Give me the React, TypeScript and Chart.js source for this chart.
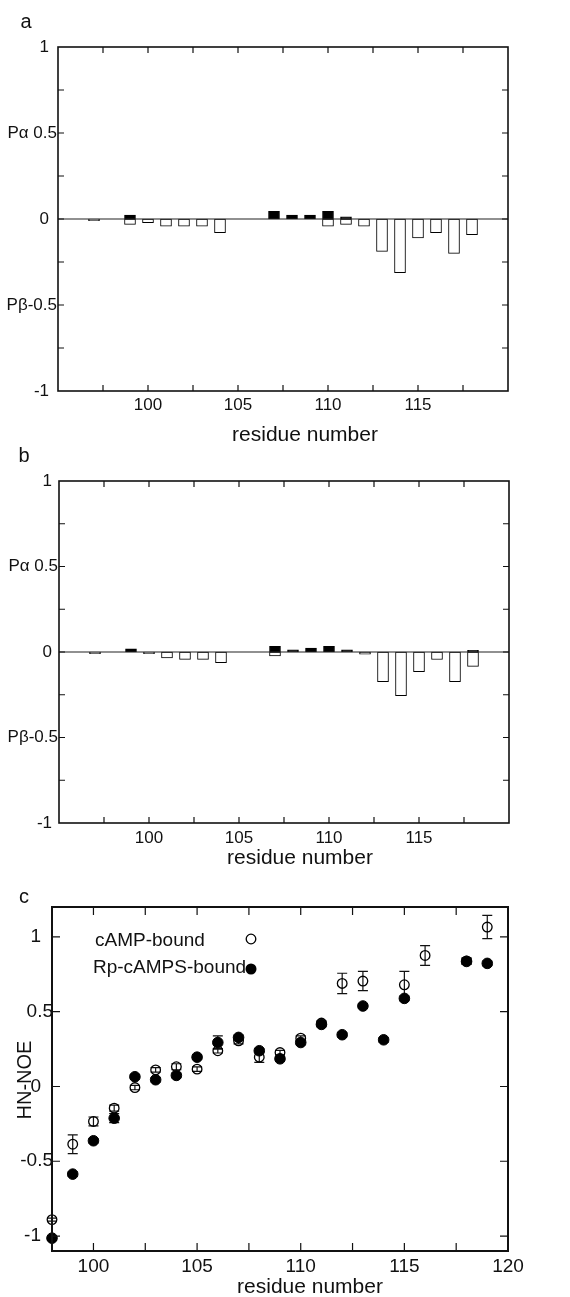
import React, { useEffect, useRef } from 'react';
import { Chart, registerables } from 'chart.js';
Chart.register(...registerables);

const FONT = "'Liberation Sans', Arial, Helvetica, sans-serif";

// ---------- Panels a & b: residues and helix/strand propensities ----------
const residuesAB = [97, 98, 99, 100, 101, 102, 103, 104, 105, 106, 107, 108, 109, 110, 111, 112, 113, 114, 115, 116, 117, 118];
const alphaA = [null, null, 0.023, null, null, null, null, null, null, null, 0.045, 0.023, 0.023, 0.045, 0.012, null, null, null, null, null, null, null];
const betaA = [-0.01, null, -0.031, -0.021, -0.041, -0.042, -0.042, -0.08, null, null, null, null, null, -0.041, -0.031, -0.041, -0.188, -0.312, -0.11, -0.08, -0.2, -0.091];
const alphaB = [null, null, 0.018, null, null, null, null, null, null, null, 0.033, 0.012, 0.023, 0.033, 0.012, null, null, null, null, null, null, 0.01];
const betaB = [-0.01, null, null, -0.01, -0.035, -0.043, -0.043, -0.062, null, null, -0.023, null, null, null, null, -0.012, -0.173, -0.255, -0.115, -0.044, -0.173, -0.084];

const xTicksAB = [97.5, 100, 102.5, 105, 107.5, 110, 112.5, 115, 117.5];
const xLabelsAB = [100, 105, 110, 115];
const yTicksAB = [-0.75, -0.5, -0.25, 0, 0.25, 0.5, 0.75];
const yLabelValuesAB = [-1, -0.5, 0, 0.5, 1];
const yLabelTextsAB = ['-1', 'P\u03B2-0.5', '0', 'P\u03B1 0.5', '1'];

// ---------- Panel c: HN-NOE ----------
const residuesC = [98, 99, 100, 101, 102, 103, 104, 105, 106, 107, 108, 109, 110, 111, 112, 113, 114, 115, 116, 117, 118, 119];
const campNoe = [-0.89, -0.386, -0.234, -0.145, -0.007, 0.111, 0.132, 0.116, 0.239, 0.305, 0.196, 0.227, 0.323, 0.424, 0.689, 0.705, null, 0.68, 0.876, null, 0.84, 1.066];
const campErr = [0.01, 0.063, 0.03, 0.02, 0.015, 0.015, 0.02, 0.015, 0.015, 0.02, 0.035, 0.015, 0.015, 0.015, 0.068, 0.064, null, 0.09, 0.066, null, 0.02, 0.078];
const rpNoe = [-1.014, -0.586, -0.363, -0.212, 0.065, 0.045, 0.074, 0.196, 0.294, 0.328, 0.239, 0.185, 0.294, 0.415, 0.346, 0.538, 0.312, 0.589, null, null, 0.836, 0.823];
const rpErr = [0.015, 0.015, 0.015, 0.03, 0.015, 0.015, 0.015, 0.015, 0.045, 0.015, 0.015, 0.015, 0.015, 0.015, 0.015, 0.015, 0.015, 0.015, null, null, 0.02, 0.015];

const xTicksC = [100, 102.5, 105, 107.5, 110, 112.5, 115, 117.5];
const xLabelsC = [100, 105, 110, 115, 120];
const yTicksC = [-1, -0.5, 0, 0.5, 1];
const yLabelValuesC = [-1, -0.5, 0, 0.5, 1];
const yLabelTextsC = ['-1', '-0.5', '0', '0.5', '1'];

const legendNames = ['cAMP-bound', 'Rp-cAMPS-bound'];

type Cfg = {
  xTicks: number[]; xLabels: number[]; yTicks: number[];
  yLabelValues: number[]; yLabelTexts: string[];
  tickLen: number; tickFont: number; frameWidth: number;
  xLabelY: number; intOffset: number; decOffset: number;
  title: { text: string; x: number; y: number };
  letter: { text: string; x: number; y: number };
  zeroLine: boolean;
};

function framePlugin(cfg: Cfg) {
  return {
    id: 'frame',
    afterDatasetsDraw(chart: any) {
      if (!cfg.zeroLine) return;
      const { ctx, chartArea: a, scales } = chart;
      const y0 = scales.y.getPixelForValue(0);
      ctx.save();
      ctx.strokeStyle = '#222';
      ctx.lineWidth = 1.2;
      ctx.beginPath();
      ctx.moveTo(a.left, y0);
      ctx.lineTo(a.right, y0);
      ctx.stroke();
      ctx.restore();
    },
    afterDraw(chart: any) {
      const { ctx, chartArea: a, scales } = chart;
      const xs = scales.x, ys = scales.y;
      const L = cfg.tickLen;
      ctx.save();
      ctx.strokeStyle = '#111';
      ctx.lineWidth = 1.2;
      ctx.beginPath();
      cfg.xTicks.forEach((v) => {
        const px = xs.getPixelForValue(v);
        ctx.moveTo(px, a.top); ctx.lineTo(px, a.top + L);
        ctx.moveTo(px, a.bottom); ctx.lineTo(px, a.bottom - L);
      });
      cfg.yTicks.forEach((v) => {
        const py = ys.getPixelForValue(v);
        ctx.moveTo(a.left, py); ctx.lineTo(a.left + L, py);
        ctx.moveTo(a.right, py); ctx.lineTo(a.right - L, py);
      });
      ctx.stroke();
      ctx.lineWidth = cfg.frameWidth;
      ctx.strokeRect(a.left, a.top, a.right - a.left, a.bottom - a.top);

      ctx.fillStyle = '#111';
      ctx.font = `${cfg.tickFont}px ${FONT}`;
      ctx.textAlign = 'center';
      ctx.textBaseline = 'middle';
      cfg.xLabels.forEach((v) => ctx.fillText(String(v), xs.getPixelForValue(v), cfg.xLabelY));
      ctx.textAlign = 'right';
      cfg.yLabelValues.forEach((v, i) => {
        const t = cfg.yLabelTexts[i];
        const off = t.includes('.') ? cfg.decOffset : cfg.intOffset;
        ctx.fillText(t, a.left + off, ys.getPixelForValue(v));
      });
      ctx.textAlign = 'center';
      ctx.font = `21px ${FONT}`;
      ctx.fillText(cfg.title.text, cfg.title.x, cfg.title.y);
      ctx.font = `20px ${FONT}`;
      ctx.fillText(cfg.letter.text, cfg.letter.x, cfg.letter.y);
      ctx.restore();
    },
  };
}

function toPoints(xs: number[], ys: (number | null)[]) {
  const out: { x: number; y: number }[] = [];
  xs.forEach((x, i) => {
    const y = ys[i];
    if (y !== null && y !== undefined) out.push({ x, y });
  });
  return out;
}

function barConfig(alpha: (number | null)[], beta: (number | null)[], padding: any, cfg: Cfg): any {
  return {
    type: 'bar',
    data: {
      datasets: [
        { data: toPoints(residuesAB, alpha), backgroundColor: '#000', borderColor: '#000', borderWidth: 1, barThickness: 11, grouped: false, borderSkipped: false },
        { data: toPoints(residuesAB, beta), backgroundColor: '#fff', borderColor: '#000', borderWidth: 1, barThickness: 11, grouped: false, borderSkipped: false },
      ],
    },
    options: {
      animation: false,
      responsive: false,
      devicePixelRatio: 1,
      layout: { padding },
      plugins: { legend: { display: false }, tooltip: { enabled: false } },
      scales: {
        x: { type: 'linear', min: 95, max: 120, offset: false, display: false },
        y: { type: 'linear', min: -1, max: 1, display: false },
      },
    },
    plugins: [framePlugin(cfg)],
  };
}

const errorBarPlugin = {
  id: 'errbars',
  beforeDatasetsDraw(chart: any) {
    const { ctx, scales } = chart;
    const xs = scales.x, ys = scales.y;
    ctx.save();
    ctx.strokeStyle = '#111';
    ctx.lineWidth = 1.2;
    const draw = (vals: (number | null)[], errs: (number | null)[]) => {
      residuesC.forEach((r, i) => {
        const v = vals[i], e = errs[i];
        if (v === null || e === null) return;
        const px = xs.getPixelForValue(r);
        const y1 = ys.getPixelForValue(v + e);
        const y2 = ys.getPixelForValue(v - e);
        ctx.beginPath();
        ctx.moveTo(px, y1); ctx.lineTo(px, y2);
        ctx.moveTo(px - 5, y1); ctx.lineTo(px + 5, y1);
        ctx.moveTo(px - 5, y2); ctx.lineTo(px + 5, y2);
        ctx.stroke();
      });
    };
    draw(campNoe, campErr);
    draw(rpNoe, rpErr);
    ctx.restore();
  },
  afterDraw(chart: any) {
    const { ctx } = chart;
    ctx.save();
    ctx.fillStyle = '#111';
    ctx.font = `19px ${FONT}`;
    ctx.textAlign = 'left';
    ctx.textBaseline = 'middle';
    ctx.fillText(legendNames[0], 95, 68);
    ctx.fillText(legendNames[1], 93, 95);
    ctx.strokeStyle = '#000';
    ctx.lineWidth = 1.3;
    ctx.beginPath();
    ctx.arc(251, 66, 4.8, 0, Math.PI * 2);
    ctx.stroke();
    ctx.fillStyle = '#000';
    ctx.beginPath();
    ctx.arc(251, 96, 5.5, 0, Math.PI * 2);
    ctx.fill();
    ctx.fillStyle = '#111';
    ctx.font = `20px ${FONT}`;
    ctx.translate(25, 207);
    ctx.rotate(-Math.PI / 2);
    ctx.textAlign = 'center';
    ctx.fillText('HN-NOE', 0, 0);
    ctx.restore();
  },
};

function scatterConfig(): any {
  const cfg: Cfg = {
    xTicks: xTicksC, xLabels: xLabelsC, yTicks: yTicksC,
    yLabelValues: yLabelValuesC, yLabelTexts: yLabelTextsC,
    tickLen: 8, tickFont: 19, frameWidth: 2,
    xLabelY: 394, intOffset: -11, decOffset: 1,
    title: { text: 'residue number', x: 310, y: 414 },
    letter: { text: 'c', x: 24, y: 24 },
    zeroLine: false,
  };
  return {
    type: 'scatter',
    data: {
      datasets: [
        { label: legendNames[0], data: toPoints(residuesC, campNoe), pointRadius: 4.8, pointBorderWidth: 1.3, pointBorderColor: '#000', pointBackgroundColor: 'rgba(0,0,0,0)', showLine: false, clip: false },
        { label: legendNames[1], data: toPoints(residuesC, rpNoe), pointRadius: 5.3, pointBorderWidth: 1, pointBorderColor: '#000', pointBackgroundColor: '#000', showLine: false, clip: false },
      ],
    },
    options: {
      animation: false,
      responsive: false,
      devicePixelRatio: 1,
      layout: { padding: { left: 52, top: 34, right: 62, bottom: 46 } },
      plugins: { legend: { display: false }, tooltip: { enabled: false } },
      scales: {
        x: { type: 'linear', min: 98, max: 120, display: false },
        y: { type: 'linear', min: -1.1, max: 1.2, display: false },
      },
    },
    plugins: [errorBarPlugin, framePlugin(cfg)],
  };
}

function ChartCanvas({ top, height, build }: { top: number; height: number; build: () => any }) {
  const ref = useRef<HTMLCanvasElement>(null);
  useEffect(() => {
    const chart = new Chart(ref.current as HTMLCanvasElement, build());
    return () => chart.destroy();
  }, []);
  return (
    <canvas
      ref={ref}
      width={570}
      height={height}
      style={{ position: 'absolute', left: 0, top, width: 570, height }}
    />
  );
}

export default function App() {
  const cfgA: Cfg = {
    xTicks: xTicksAB, xLabels: xLabelsAB, yTicks: yTicksAB,
    yLabelValues: yLabelValuesAB, yLabelTexts: yLabelTextsAB,
    tickLen: 6, tickFont: 17, frameWidth: 1.6,
    xLabelY: 405, intOffset: -9, decOffset: -1,
    title: { text: 'residue number', x: 305, y: 435 },
    letter: { text: 'a', x: 26, y: 22 },
    zeroLine: true,
  };
  const cfgB: Cfg = {
    ...cfgA,
    xLabelY: 398, intOffset: -7, decOffset: -1,
    title: { text: 'residue number', x: 300, y: 418 },
    letter: { text: 'b', x: 24, y: 16 },
  };
  return (
    <div style={{ position: 'absolute', left: 0, top: 0, width: 570, height: 1297, background: '#fff', overflow: 'hidden' }}>
      <ChartCanvas top={0} height={448} build={() => barConfig(alphaA, betaA, { left: 58, top: 47, right: 62, bottom: 57 }, cfgA)} />
      <ChartCanvas top={440} height={433} build={() => barConfig(alphaB, betaB, { left: 59, top: 41, right: 61, bottom: 50 }, cfgB)} />
      <ChartCanvas top={873} height={424} build={scatterConfig} />
    </div>
  );
}
